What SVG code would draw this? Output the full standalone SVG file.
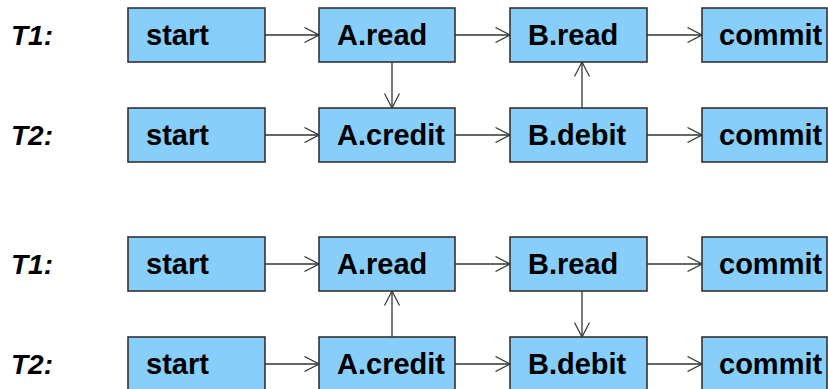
<svg xmlns="http://www.w3.org/2000/svg" width="828" height="389" viewBox="0 0 828 389">
<defs>
<marker id="arr" viewBox="0 0 16 16" refX="15" refY="8" markerWidth="16" markerHeight="16" markerUnits="userSpaceOnUse" orient="auto">
<path d="M0.5,0.5 L15,8 L0.5,15.5" fill="none" stroke="#333" stroke-width="1.2"/>
</marker>
<style>
.box{fill:#87CEFA;stroke:#333;stroke-width:1.6}
.t{font-family:"Liberation Sans",Arial,sans-serif;font-weight:bold;font-size:29px;fill:#000}
.lbl{font-family:"Liberation Sans",Arial,sans-serif;font-weight:bold;font-style:italic;font-size:28px;fill:#000}
.c{stroke:#333;stroke-width:1.3;fill:none;marker-end:url(#arr)}
</style>
</defs>
<rect width="828" height="389" fill="#fff"/>
<g id="labels">
<text class="lbl" x="11" y="45">T1:</text>
<text class="lbl" x="11" y="145">T2:</text>
<text class="lbl" x="11" y="274">T1:</text>
<text class="lbl" x="11" y="374">T2:</text>
</g>
<g id="connectors">
<line class="c" x1="265" y1="35" x2="319" y2="35"/>
<line class="c" x1="455" y1="35" x2="510" y2="35"/>
<line class="c" x1="647" y1="35" x2="702" y2="35"/>
<line class="c" x1="265" y1="135" x2="319" y2="135"/>
<line class="c" x1="455" y1="135" x2="510" y2="135"/>
<line class="c" x1="647" y1="135" x2="702" y2="135"/>
<line class="c" x1="392" y1="62" x2="392" y2="108"/>
<line class="c" x1="582" y1="108" x2="582" y2="62"/>
<line class="c" x1="265" y1="264" x2="319" y2="264"/>
<line class="c" x1="455" y1="264" x2="510" y2="264"/>
<line class="c" x1="647" y1="264" x2="702" y2="264"/>
<line class="c" x1="265" y1="364" x2="319" y2="364"/>
<line class="c" x1="455" y1="364" x2="510" y2="364"/>
<line class="c" x1="647" y1="364" x2="702" y2="364"/>
<line class="c" x1="392" y1="337" x2="392" y2="291"/>
<line class="c" x1="582" y1="291" x2="582" y2="337"/>
</g>
<g id="n1"><rect class="box" x="128" y="8" width="137" height="54"/><text class="t" x="146" y="45">start</text></g>
<g id="n2"><rect class="box" x="319" y="8" width="136" height="54"/><text class="t" x="337" y="45">A.read</text></g>
<g id="n3"><rect class="box" x="510" y="8" width="137" height="54"/><text class="t" x="528" y="45">B.read</text></g>
<g id="n4"><rect class="box" x="702" y="8" width="125" height="54"/><text class="t" x="719" y="45">commit</text></g>
<g id="n5"><rect class="box" x="128" y="108" width="137" height="54"/><text class="t" x="146" y="145">start</text></g>
<g id="n6"><rect class="box" x="319" y="108" width="136" height="54"/><text class="t" x="337" y="145">A.credit</text></g>
<g id="n7"><rect class="box" x="510" y="108" width="137" height="54"/><text class="t" x="528" y="145">B.debit</text></g>
<g id="n8"><rect class="box" x="702" y="108" width="125" height="54"/><text class="t" x="719" y="145">commit</text></g>
<g id="n9"><rect class="box" x="128" y="237" width="137" height="54"/><text class="t" x="146" y="274">start</text></g>
<g id="n10"><rect class="box" x="319" y="237" width="136" height="54"/><text class="t" x="337" y="274">A.read</text></g>
<g id="n11"><rect class="box" x="510" y="237" width="137" height="54"/><text class="t" x="528" y="274">B.read</text></g>
<g id="n12"><rect class="box" x="702" y="237" width="125" height="54"/><text class="t" x="719" y="274">commit</text></g>
<g id="n13"><rect class="box" x="128" y="337" width="137" height="54"/><text class="t" x="146" y="374">start</text></g>
<g id="n14"><rect class="box" x="319" y="337" width="136" height="54"/><text class="t" x="337" y="374">A.credit</text></g>
<g id="n15"><rect class="box" x="510" y="337" width="137" height="54"/><text class="t" x="528" y="374">B.debit</text></g>
<g id="n16"><rect class="box" x="702" y="337" width="125" height="54"/><text class="t" x="719" y="374">commit</text></g>
</svg>
